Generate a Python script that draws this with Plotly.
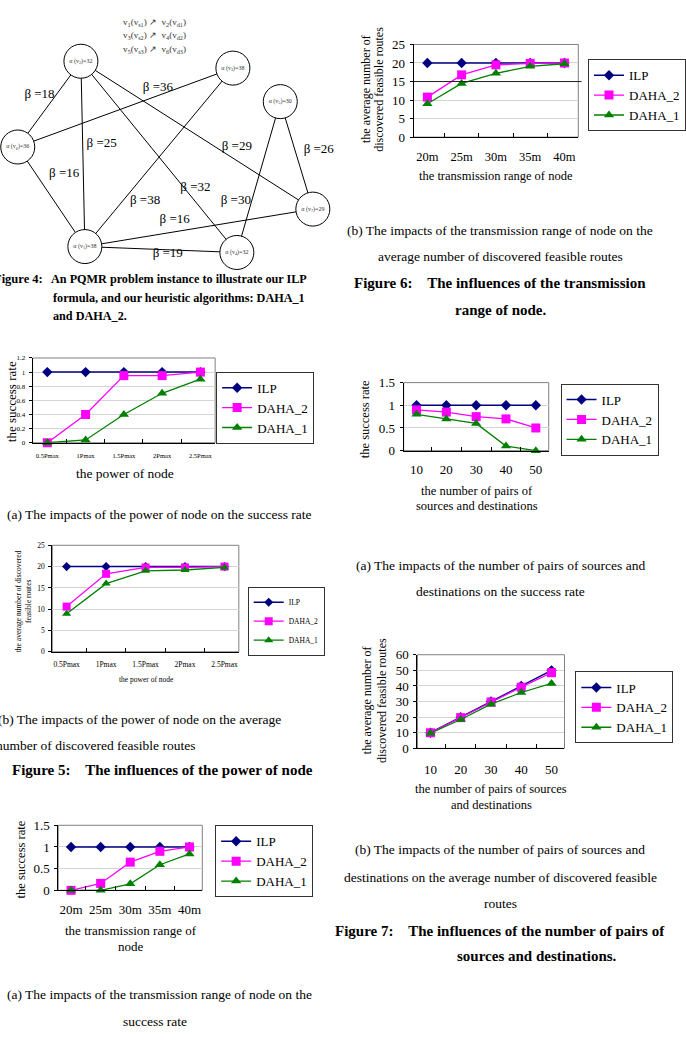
import plotly.graph_objects as go

W, H = 686, 1062
FONT = "Liberation Serif"

# ---------------- data ----------------
power_levels = ["0.5Pmax", "1Pmax", "1.5Pmax", "2Pmax", "2.5Pmax"]
power_success_ilp = [1, 1, 1, 1, 1]
power_success_daha2 = [0, 0.4, 0.95, 0.95, 1]
power_success_daha1 = [0, 0.04, 0.4, 0.7, 0.9]
power_routes_ilp = [20, 20, 20, 20, 20]
power_routes_daha2 = [10.6, 18.3, 19.8, 19.8, 20]
power_routes_daha1 = [8.9, 16, 19, 19.2, 19.8]

ranges_m = ["20m", "25m", "30m", "35m", "40m"]
range_success_ilp = [1, 1, 1, 1, 1]
range_success_daha2 = [0, 0.16, 0.65, 0.9, 1]
range_success_daha1 = [0, 0, 0.15, 0.59, 0.84]
range_routes_ilp = [20, 20, 20, 20, 20]
range_routes_daha2 = [10.8, 16.8, 19.5, 19.9, 20]
range_routes_daha1 = [9.0, 14.5, 17.2, 19.1, 19.8]

pairs = ["10", "20", "30", "40", "50"]
pairs_success_ilp = [1, 1, 1, 1, 1]
pairs_success_daha2 = [0.9, 0.85, 0.75, 0.7, 0.5]
pairs_success_daha1 = [0.8, 0.7, 0.6, 0.1, 0]
pairs_routes_ilp = [10, 20, 30, 40, 50]
pairs_routes_daha2 = [10, 19.7, 29.7, 39.2, 48.5]
pairs_routes_daha1 = [9.7, 18.5, 28.3, 35.8, 41.6]

series_names = ["ILP", "DAHA_2", "DAHA_1"]

# Figure 4 graph instance
node_names = ["v1", "v2", "v3", "v4", "v5", "v6", "v7"]
node_alpha = [38, 32, 38, 32, 30, 36, 29]
edge_list = [("v2", "v6", 18), ("v2", "v1", 25), ("v2", "v4", 32), ("v2", "v7", 29),
             ("v6", "v3", 36), ("v6", "v1", 16), ("v3", "v1", 38), ("v5", "v4", 30),
             ("v5", "v7", 26), ("v1", "v7", 16), ("v1", "v4", 19)]
pair_lines = ["v<sub>1</sub>(v<sub>s1</sub>) ↗  v<sub>2</sub>(v<sub>d1</sub>)",
              "v<sub>3</sub>(v<sub>s2</sub>) ↗  v<sub>4</sub>(v<sub>d2</sub>)",
              "v<sub>5</sub>(v<sub>s3</sub>) ↗  v<sub>6</sub>(v<sub>d3</sub>)"]

# ---------------- layout helpers (pixel positions) ----------------
node_pos = {"v1": (86, 243), "v2": (82, 55), "v3": (236, 62), "v4": (240, 249),
            "v5": (284, 96), "v6": (18, 142), "v7": (317, 205)}
beta_pos = [(40, 89), (103, 139), (198, 183), (240, 142), (160, 82), (65, 169),
            (147, 197), (239, 197), (323, 145), (177, 216), (170, 250)]

colors = ["#000080", "#FF00FF", "#008000"]
symbols = ["diamond", "square", "triangle-up"]


def px(x):
    return x / W


def py(y):
    return 1 - y / H


charts = [
    dict(cats=power_levels, ys=[power_success_ilp, power_success_daha2, power_success_daha1],
         box=(33, 218, 356, 442), yr=[0, 1.2], dt=0.2, tfs=7, xtfs=6.5, lfs=13, leg=(219, 370),
         so=6, ms=8, xt=(["the power of node"], 127, [473], 13.5),
         yt=(["the success rate"], [12], 400, 13)),
    dict(cats=power_levels, ys=[power_routes_ilp, power_routes_daha2, power_routes_daha1],
         box=(53, 242, 546, 654), yr=[0, 25], dt=5, tfs=7.5, xtfs=7.5, lfs=7.5, leg=(251, 588),
         so=5, ms=7, xt=(["the power of node"], 148, [682], 7.5),
         yt=(["the average number of discovered", "feasible routes"], [19, 29], 603, 7.5)),
    dict(cats=ranges_m, ys=[range_success_ilp, range_success_daha2, range_success_daha1],
         box=(59, 205, 830, 896), yr=[0, 1.5], dt=0.5, tfs=13, xtfs=13, lfs=13, leg=(218, 830),
         so=7, ms=8, xt=(["the transmission range of", "node"], 133, [937, 953], 13),
         yt=(["the success rate"], [21], 865, 12.5)),
    dict(cats=ranges_m, ys=[range_routes_ilp, range_routes_daha2, range_routes_daha1],
         box=(419, 586, 38, 132), yr=[0, 25], dt=5, tfs=13, xtfs=12.5, lfs=13, leg=(596, 53),
         so=8, ms=8, xt=(["the transmission range of node"], 503, [171], 12.5),
         yt=(["the average number of", "discovered feasible routes"], [371, 384], 83, 12)),
    dict(cats=pairs, ys=[pairs_success_ilp, pairs_success_daha2, pairs_success_daha1],
         box=(409, 556, 381, 450), yr=[0, 1.5], dt=0.5, tfs=13, xtfs=13, lfs=13, leg=(568, 382),
         so=7, ms=8, xt=(["the number of pairs of", "sources and destinations"], 483, [491, 506], 12.5),
         yt=(["the success rate"], [370], 418, 12.5)),
    dict(cats=pairs, ys=[pairs_routes_ilp, pairs_routes_daha2, pairs_routes_daha1],
         box=(423, 572, 657, 752), yr=[0, 60], dt=10, tfs=13, xtfs=13, lfs=13, leg=(583, 674),
         so=9, ms=8, xt=(["the number of pairs of sources", "and destinations"], 498, [793, 809], 12.5),
         yt=(["the average number of", "discovered feasible routes"], [372, 387], 703, 12)),
]

fig = go.Figure()
layout = dict(width=W, height=H, autosize=False, margin=dict(l=0, r=0, t=0, b=0, pad=0),
              paper_bgcolor="white", plot_bgcolor="white",
              font=dict(family=FONT, color="black"), shapes=[], annotations=[])

for i, c in enumerate(charts, start=1):
    xa = "x" if i == 1 else f"x{i}"
    ya = "y" if i == 1 else f"y{i}"
    lg = "legend" if i == 1 else f"legend{i}"
    x0, x1, yt_, yb_ = c["box"]
    layout["xaxis" if i == 1 else f"xaxis{i}"] = dict(
        domain=[px(x0), px(x1)], anchor=ya, type="category", categoryarray=c["cats"],
        tickson="boundaries", ticks="inside", ticklen=4, tickcolor="black", tickangle=0,
        ticklabelstandoff=c["so"],
        showline=True, linecolor="black", linewidth=1, showgrid=False, zeroline=False,
        tickfont=dict(family=FONT, size=c["xtfs"]), fixedrange=True)
    layout["yaxis" if i == 1 else f"yaxis{i}"] = dict(
        domain=[py(yb_), py(yt_)], anchor=xa, range=c["yr"], dtick=c["dt"], tick0=0,
        showline=True, linecolor="black", linewidth=1, showgrid=True, gridcolor="#d4d4d4",
        gridwidth=1, zeroline=False, ticks="outside", ticklen=3, tickcolor="black",
        ticklabelstandoff=2,
        tickfont=dict(family=FONT, size=c["tfs"]), fixedrange=True)
    # plot-area frame
    layout["shapes"].append(dict(type="rect", xref=f"{xa} domain", yref=f"{ya} domain",
                                 x0=0, x1=1, y0=0, y1=1, line=dict(color="#808080", width=1),
                                 layer="below"))
    for k in range(3):
        fig.add_trace(go.Scatter(
            x=c["cats"], y=c["ys"][k], name=series_names[k], mode="lines+markers",
            xaxis=xa, yaxis=ya, legend=lg, cliponaxis=False,
            line=dict(color=colors[k], width=1.5 if k == 0 else 1.3),
            marker=dict(symbol=symbols[k], size=c["ms"] + (1 if k > 0 else 0), color=colors[k])))
    layout[lg] = dict(x=px(c["leg"][0]), y=py(c["leg"][1]), xanchor="left", yanchor="top",
                      bordercolor="#333333", borderwidth=1, bgcolor="white",
                      font=dict(family=FONT, size=c["lfs"]), tracegroupgap=0)
    # axis titles
    lines, cx, ys_, fs = c["xt"]
    for t, yy in zip(lines, ys_):
        layout["annotations"].append(dict(text=t, x=px(cx), y=py(yy), xref="paper", yref="paper",
                                          xanchor="center", yanchor="middle", showarrow=False,
                                          font=dict(family=FONT, size=fs)))
    lines, xs_, cy, fs = c["yt"]
    for t, xx in zip(lines, xs_):
        layout["annotations"].append(dict(text=t, x=px(xx), y=py(cy), xref="paper", yref="paper",
                                          xanchor="center", yanchor="middle", showarrow=False,
                                          textangle=-90, font=dict(family=FONT, size=fs)))

# dark reference line at 15 in the transmission / routes chart
layout["shapes"].append(dict(type="line", xref="x4 domain", yref="y4", x0=0, x1=1.02, y0=15, y1=15,
                             line=dict(color="#202020", width=1)))

# ---------------- Figure 4 graph ----------------
layout["xaxis7"] = dict(domain=[0, px(340)], anchor="y7", range=[0, 340], visible=False, fixedrange=True)
layout["yaxis7"] = dict(domain=[py(268), 1], anchor="x7", range=[268, 0], visible=False, fixedrange=True)
for (a, b, beta) in edge_list:
    fig.add_trace(go.Scatter(x=[node_pos[a][0], node_pos[b][0]], y=[node_pos[a][1], node_pos[b][1]],
                             mode="lines", line=dict(color="black", width=1), xaxis="x7", yaxis="y7",
                             showlegend=False, hoverinfo="skip"))
fig.add_trace(go.Scatter(
    x=[node_pos[n][0] for n in node_names], y=[node_pos[n][1] for n in node_names],
    mode="markers+text", xaxis="x7", yaxis="y7", showlegend=False,
    marker=dict(size=34, color="white", line=dict(color="black", width=1)),
    text=[f"α (v<sub>{n[1]}</sub>)={a}" for n, a in zip(node_names, node_alpha)],
    textposition="middle center", textfont=dict(family=FONT, size=6, color="#333333")))
fig.add_trace(go.Scatter(
    x=[p[0] for p in beta_pos], y=[p[1] for p in beta_pos], mode="text", xaxis="x7", yaxis="y7",
    showlegend=False, text=[f"β ={e[2]}" for e in edge_list],
    textfont=dict(family=FONT, size=13, color="black")))

for t, yy in zip(pair_lines, [16, 29, 43]):
    layout["annotations"].append(dict(text=t, x=px(123), y=py(yy), xref="paper", yref="paper",
                                      xanchor="left", yanchor="middle", showarrow=False,
                                      font=dict(family=FONT, size=9, color="#333333")))

# ---------------- captions ----------------
captions = [
    ("<b>Figure 4:</b>", -8, 276, "left", 12.5),
    ("<b>An PQMR problem instance to illustrate our ILP</b>", 50, 276, "left", 12.2),
    ("<b>formula, and our heuristic algorithms: DAHA_1</b>", 52, 295, "left", 12.2),
    ("<b>and DAHA_2.</b>", 52, 313, "left", 12.2),
    ("(a) The impacts of the power of node on the success rate", 5, 515, "left", 13.5),
    ("(b) The impacts of the power of node on the average", -4, 723, "left", 13.5),
    ("number of discovered feasible routes", -6, 749, "left", 13.5),
    ("<b>Figure 5:    The influences of the power of node</b>", 10, 774, "left", 15),
    ("(a) The impacts of the transmission range of node on the", 5, 1002, "left", 13.5),
    ("success rate", 157, 1029, "center", 13.5),
    ("(b) The impacts of the transmission range of node on the", 507, 227, "center", 13.5),
    ("average number of discovered feasible routes", 507, 253, "center", 13.5),
    ("<b>Figure 6:    The influences of the transmission</b>", 507, 280, "center", 15),
    ("<b>range of node.</b>", 507, 307, "center", 15),
    ("(a) The impacts of the number of pairs of sources and", 507, 567, "center", 13.5),
    ("destinations on the success rate", 507, 593, "center", 13.5),
    ("(b) The impacts of the number of pairs of sources and", 507, 855, "center", 13.5),
    ("destinations on the average number of discovered feasible", 507, 883, "center", 13.5),
    ("routes", 507, 909, "center", 13.5),
    ("<b>Figure 7:    The influences of the number of pairs of</b>", 507, 937, "center", 15),
    ("<b>sources and destinations.</b>", 544, 963, "center", 15),
]
for t, xx, yy, anc, fs in captions:
    layout["annotations"].append(dict(text=t, x=px(xx), y=py(yy), xref="paper", yref="paper",
                                      xanchor=anc, yanchor="middle", showarrow=False,
                                      font=dict(family=FONT, size=fs, color="black")))

fig.update_layout(**layout)
fig.write_html("out.html", config={"displayModeBar": False})
